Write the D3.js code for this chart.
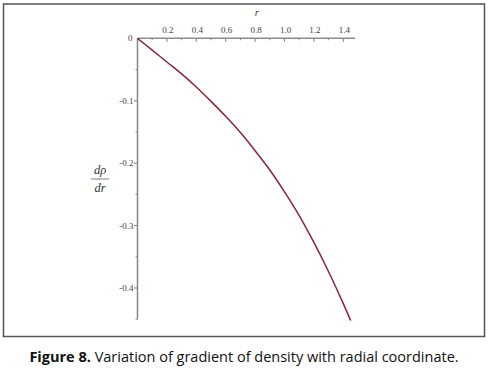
<!doctype html>
<html lang="en">
<head>
<meta charset="UTF-8">
<title>Figure 8</title>
<script src="https://d3js.org/d3.v7.min.js"></script>
<style>
  body { margin: 0; background: #fff; }
</style>
</head>
<body>
<div id="chart-area"></div>
<script>
// radial coordinate r and d(rho)/dr
const rValues = [0, 0.1, 0.2, 0.3, 0.4, 0.5, 0.6, 0.7, 0.8, 0.9, 1.0, 1.1, 1.2, 1.3, 1.4, 1.45];
const gradValues = [0, -0.019, -0.038, -0.057, -0.078, -0.101, -0.125, -0.151, -0.180, -0.211, -0.246, -0.284, -0.327, -0.374, -0.425, -0.452];
const xTicks = [0.2, 0.4, 0.6, 0.8, 1.0, 1.2, 1.4];
const xMinor = [0.1, 0.3, 0.5, 0.7, 0.9, 1.1, 1.3];
const yTicks = [-0.1, -0.2, -0.3, -0.4];
const yMinor = [-0.05, -0.15, -0.25, -0.35, -0.45];

const W = 491, H = 372;

const svg = d3.select('#chart-area')
    .append('svg')
    .attr('width', W)
    .attr('height', H);

// frame
svg.append('rect')
    .attr('x', 3.5).attr('y', 4)
    .attr('width', 481).attr('height', 332.5)
    .attr('fill', 'none')
    .attr('stroke', '#555')
    .attr('stroke-width', 1.5);

const x = d3.scaleLinear().domain([0, 1.4]).range([137.5, 343.3]);
const y = d3.scaleLinear().domain([0, -0.4]).range([38.3, 288]);

const axisColor = '#8c8c8c';
const serif = '"Liberation Serif", "DejaVu Serif", serif';

// x axis
const gx = svg.append('g');
gx.append('line')
    .attr('x1', x(0)).attr('x2', x(1.48))
    .attr('y1', y(0)).attr('y2', y(0))
    .attr('stroke', axisColor).attr('stroke-width', 1.6);
gx.selectAll('line.major')
    .data(xTicks).enter().append('line')
    .attr('class', 'major')
    .attr('x1', d => x(d)).attr('x2', d => x(d))
    .attr('y1', y(0)).attr('y2', y(0) + 3.5)
    .attr('stroke', axisColor).attr('stroke-width', 1.2);
gx.selectAll('line.minor')
    .data(xMinor).enter().append('line')
    .attr('class', 'minor')
    .attr('x1', d => x(d)).attr('x2', d => x(d))
    .attr('y1', y(0)).attr('y2', y(0) + 2)
    .attr('stroke', axisColor).attr('stroke-width', 1);
gx.selectAll('text')
    .data(xTicks).enter().append('text')
    .attr('x', d => x(d) + 1).attr('y', y(0) - 5)
    .attr('text-anchor', 'middle')
    .attr('font-family', serif)
    .attr('font-size', 9)
    .attr('fill', '#444')
    .text(d => d.toFixed(1));
svg.append('text')
    .attr('x', 257).attr('y', 16)
    .attr('text-anchor', 'middle')
    .attr('font-family', serif)
    .attr('font-style', 'italic')
    .attr('font-size', 11)
    .attr('fill', '#444')
    .text('r');

// y axis
const gy = svg.append('g');
gy.append('line')
    .attr('x1', x(0)).attr('x2', x(0))
    .attr('y1', y(0)).attr('y2', y(-0.45))
    .attr('stroke', axisColor).attr('stroke-width', 1.6);
gy.selectAll('line.major')
    .data(yTicks).enter().append('line')
    .attr('class', 'major')
    .attr('x1', x(0) - 3.5).attr('x2', x(0))
    .attr('y1', d => y(d)).attr('y2', d => y(d))
    .attr('stroke', axisColor).attr('stroke-width', 1.2);
gy.selectAll('line.minor')
    .data(yMinor).enter().append('line')
    .attr('class', 'minor')
    .attr('x1', x(0) - 2).attr('x2', x(0))
    .attr('y1', d => y(d)).attr('y2', d => y(d))
    .attr('stroke', axisColor).attr('stroke-width', 1);
gy.selectAll('text')
    .data(yTicks).enter().append('text')
    .attr('x', x(0) - 4).attr('y', d => y(d) + 3)
    .attr('text-anchor', 'end')
    .attr('font-family', serif)
    .attr('font-size', 9)
    .attr('fill', '#444')
    .text(d => d.toFixed(1));
svg.append('text')
    .attr('x', x(0) - 5).attr('y', y(0) + 3)
    .attr('text-anchor', 'end')
    .attr('font-family', serif)
    .attr('font-size', 9)
    .attr('fill', '#444')
    .text('0');

// y axis label as a fraction d rho / dr
const fracX = 100;
svg.append('text')
    .attr('x', fracX).attr('y', 174)
    .attr('text-anchor', 'middle')
    .attr('font-family', serif)
    .attr('font-style', 'italic')
    .attr('font-size', 12.5)
    .attr('fill', '#333')
    .text('dρ');
svg.append('line')
    .attr('x1', fracX - 9).attr('x2', fracX + 9)
    .attr('y1', 179).attr('y2', 179)
    .attr('stroke', '#555').attr('stroke-width', 0.8);
svg.append('text')
    .attr('x', fracX).attr('y', 192)
    .attr('text-anchor', 'middle')
    .attr('font-family', serif)
    .attr('font-style', 'italic')
    .attr('font-size', 12.5)
    .attr('fill', '#333')
    .text('dr');

// curve
const line = d3.line()
    .x((d, i) => x(rValues[i]))
    .y(d => y(d))
    .curve(d3.curveMonotoneX);
svg.append('path')
    .datum(gradValues)
    .attr('d', line)
    .attr('fill', 'none')
    .attr('stroke', '#8a2535')
    .attr('stroke-width', 1.5);

// caption
const cap = svg.append('text')
    .attr('x', 244).attr('y', 362)
    .attr('text-anchor', 'middle')
    .attr('font-family', '"Open Sans", "Noto Sans", sans-serif')
    .attr('font-size', 14.5)
    .attr('fill', '#111');
cap.append('tspan').attr('font-weight', 'bold').text('Figure 8.');
cap.append('tspan').text(' Variation of gradient of density with radial coordinate.');
</script>
</body>
</html>
